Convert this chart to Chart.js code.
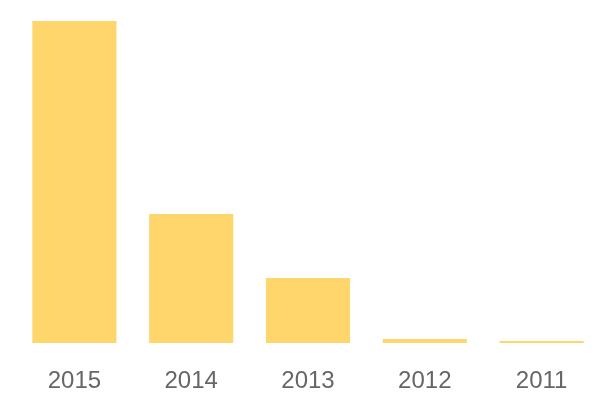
<!DOCTYPE html>
<html><head><meta charset="utf-8">
<script src="https://cdn.jsdelivr.net/npm/chart.js@4/dist/chart.umd.min.js"></script>
<style>html,body{margin:0;padding:0;background:#fff}#w{width:600px;height:400px}</style>
</head><body><div id="w"><canvas id="c"></canvas></div>
<script>
const categories = ["2015", "2014", "2013", "2012", "2011"];
const values = [322, 129, 65, 4, 2];
new Chart(document.getElementById('c'), {
  type: 'bar',
  data: { labels: categories, datasets: [{ data: values, backgroundColor: 'rgb(255,214,107)', borderWidth: 0 }] },
  options: {
    responsive: true, maintainAspectRatio: false, animation: false,
    layout: { padding: { left: 16, right: 0, top: 21, bottom: 0 } },
    plugins: { legend: { display: false }, tooltip: { enabled: false } },
    scales: {
      x: { grid: { display: false, drawTicks: false }, border: { display: false },
           categoryPercentage: 0.72, barPercentage: 1,
           afterFit: (s) => { s.height = 57; },
           ticks: { color: '#666', padding: 24, maxRotation: 0, font: { family: 'Liberation Sans, Arial, sans-serif', size: 24 } } },
      y: { display: false, min: 0, max: 322 }
    }
  }
});
</script></body></html>
